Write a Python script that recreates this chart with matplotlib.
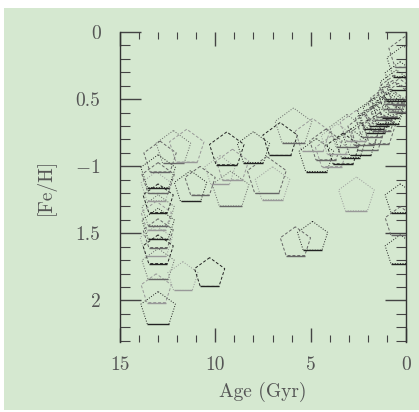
import numpy as np
import matplotlib.pyplot as plt
from matplotlib.patches import Rectangle
from matplotlib.path import Path
from matplotlib.ticker import MultipleLocator

# star particles: age (Gyr), [Fe/H], symbol width (px)
age = [13.0, 13.0, 13.1, 13.0, 13.0, 13.1, 13.0, 13.0, 13.1, 13.0, 13.0, 13.1, 13.0,
       12.9, 11.7, 10.3,
       12.2, 11.5, 11.3, 10.8, 9.75, 9.4, 9.2, 9.1, 8.0, 7.3, 7.0, 6.6, 5.9, 4.9, 4.7,
       4.2, 3.6, 3.3, 3.1, 2.6, 2.4, 2.0, 2.6,
       1.8, 1.6, 1.4, 1.4, 1.2, 1.1, 1.0, 0.8, 0.7, 0.5, 0.4, 0.3, 0.2, 0.15, 0.05,
       4.9, 5.8, 0.3, 0.3, 0.3,
       3.9, 2.9, 2.2, 1.7, 1.3, 0.9, 0.6]
feh = [-1.05, -1.10, -1.16, -1.25, -1.34, -1.38, -1.44, -1.51, -1.57, -1.63, -1.74, -1.92, -2.07,
       -0.94, -1.83, -1.80,
       -0.87, -0.86, -1.16, -1.12, -1.04, -0.88, -1.18, -1.00, -0.87, -1.08, -1.14, -0.81, -0.71, -0.78, -0.93,
       -0.85, -0.81, -0.88, -0.75, -0.71, -0.81, -0.78, -1.22,
       -0.68, -0.66, -0.73, -0.60, -0.56, -0.60, -0.53, -0.55, -0.48, -0.41, -0.50, -0.34, -0.45, -0.23, -0.16,
       -1.53, -1.57, -1.25, -1.42, -1.63,
       -0.90, -0.84, -0.74, -0.62, -0.64, -0.58, -0.44]
width = [32, 30, 28, 28, 30, 28, 30, 28, 30, 28, 30, 28, 32,
         30, 28, 28,
         32, 32, 30, 28, 28, 32, 34, 30, 30, 36, 32, 32, 34, 32, 32,
         30, 30, 30, 32, 30, 32, 30, 33,
         30, 28, 30, 30, 28, 26, 30, 26, 28, 30, 28, 28, 28, 30, 30,
         28, 28, 28, 28, 28,
         30, 28, 30, 30, 28, 30, 28]

xticks = [15, 10, 5, 0]
yticks = [0, -0.5, -1, -1.5, -2]
ylabels = ["0", "0.5", "$-$1", "1.5", "2"]

plt.rcParams['font.family'] = ['cmr10', 'DejaVu Serif']
plt.rcParams['mathtext.fontset'] = 'cm'
plt.rcParams['axes.unicode_minus'] = False

dpi = 100
fig = plt.figure(figsize=(419 / dpi, 412 / dpi), dpi=dpi, facecolor='white')
bg = Rectangle((4 / 419, 2 / 412), 1, 1 - 10 / 412, transform=fig.transFigure,
               facecolor='#d5e8d0', edgecolor='none', zorder=-10)
fig.add_artist(bg)
ax = fig.add_axes([120 / 419, 1 - 342 / 412, 286 / 419, 310 / 412])
ax.set_facecolor('none')

# bottom edge of the pentagon marker, same scale as 'p'
pent = Path.unit_regular_polygon(5).vertices
bottom = Path([[0, 1], pent[2], pent[3]], [Path.MOVETO, Path.MOVETO, Path.LINETO])

shades = ['#222222', '#666666', '#999999']
cols = []
styles = []
sizes = []
for i, (a, w) in enumerate(zip(age, width)):
    if a < 2.2:
        cols.append(shades[i % 2])
    else:
        cols.append(shades[i % 3])
    styles.append(':' if i % 2 == 0 else (0, (3, 2)))
    ms = w * 1.08 * 0.72 / 0.951
    sizes.append(ms ** 2)

ax.scatter(age, feh, s=sizes, marker='p', facecolors='none', edgecolors=cols,
           linewidths=0.7, linestyles=styles, zorder=3)
ax.scatter(age, feh, s=sizes, marker=bottom, facecolors='none', edgecolors=cols,
           linewidths=1.0, zorder=3)

ax.set_xlim(15, 0)
ax.set_ylim(-2.31, 0)
ax.set_xticks(xticks)
ax.set_xticklabels([str(t) for t in xticks])
ax.xaxis.set_minor_locator(MultipleLocator(1))
ax.set_yticks(yticks)
ax.set_yticklabels(ylabels)
ax.yaxis.set_minor_locator(MultipleLocator(0.1))

for s in ['top', 'bottom']:
    ax.spines[s].set_visible(False)
for s in ['left', 'right']:
    ax.spines[s].set_linewidth(1.0)
    ax.spines[s].set_color('#333333')

ax.tick_params(which='both', direction='in', top=True, right=True, colors='#444444',
               labelcolor='#555555', labelsize=14)
ax.tick_params(axis='x', which='major', length=10, width=1, pad=10)
ax.tick_params(axis='x', which='minor', length=5, width=0.8)
ax.tick_params(axis='y', which='major', length=15, width=1, pad=14)
ax.tick_params(axis='y', which='minor', length=7, width=0.8)

ax.set_xlabel('Age (Gyr)', fontsize=14, color='#555555', labelpad=6)
ax.set_ylabel('[Fe/H]', fontsize=14, color='#555555', labelpad=14)

fig.savefig('out.png', dpi=dpi, facecolor='white')
